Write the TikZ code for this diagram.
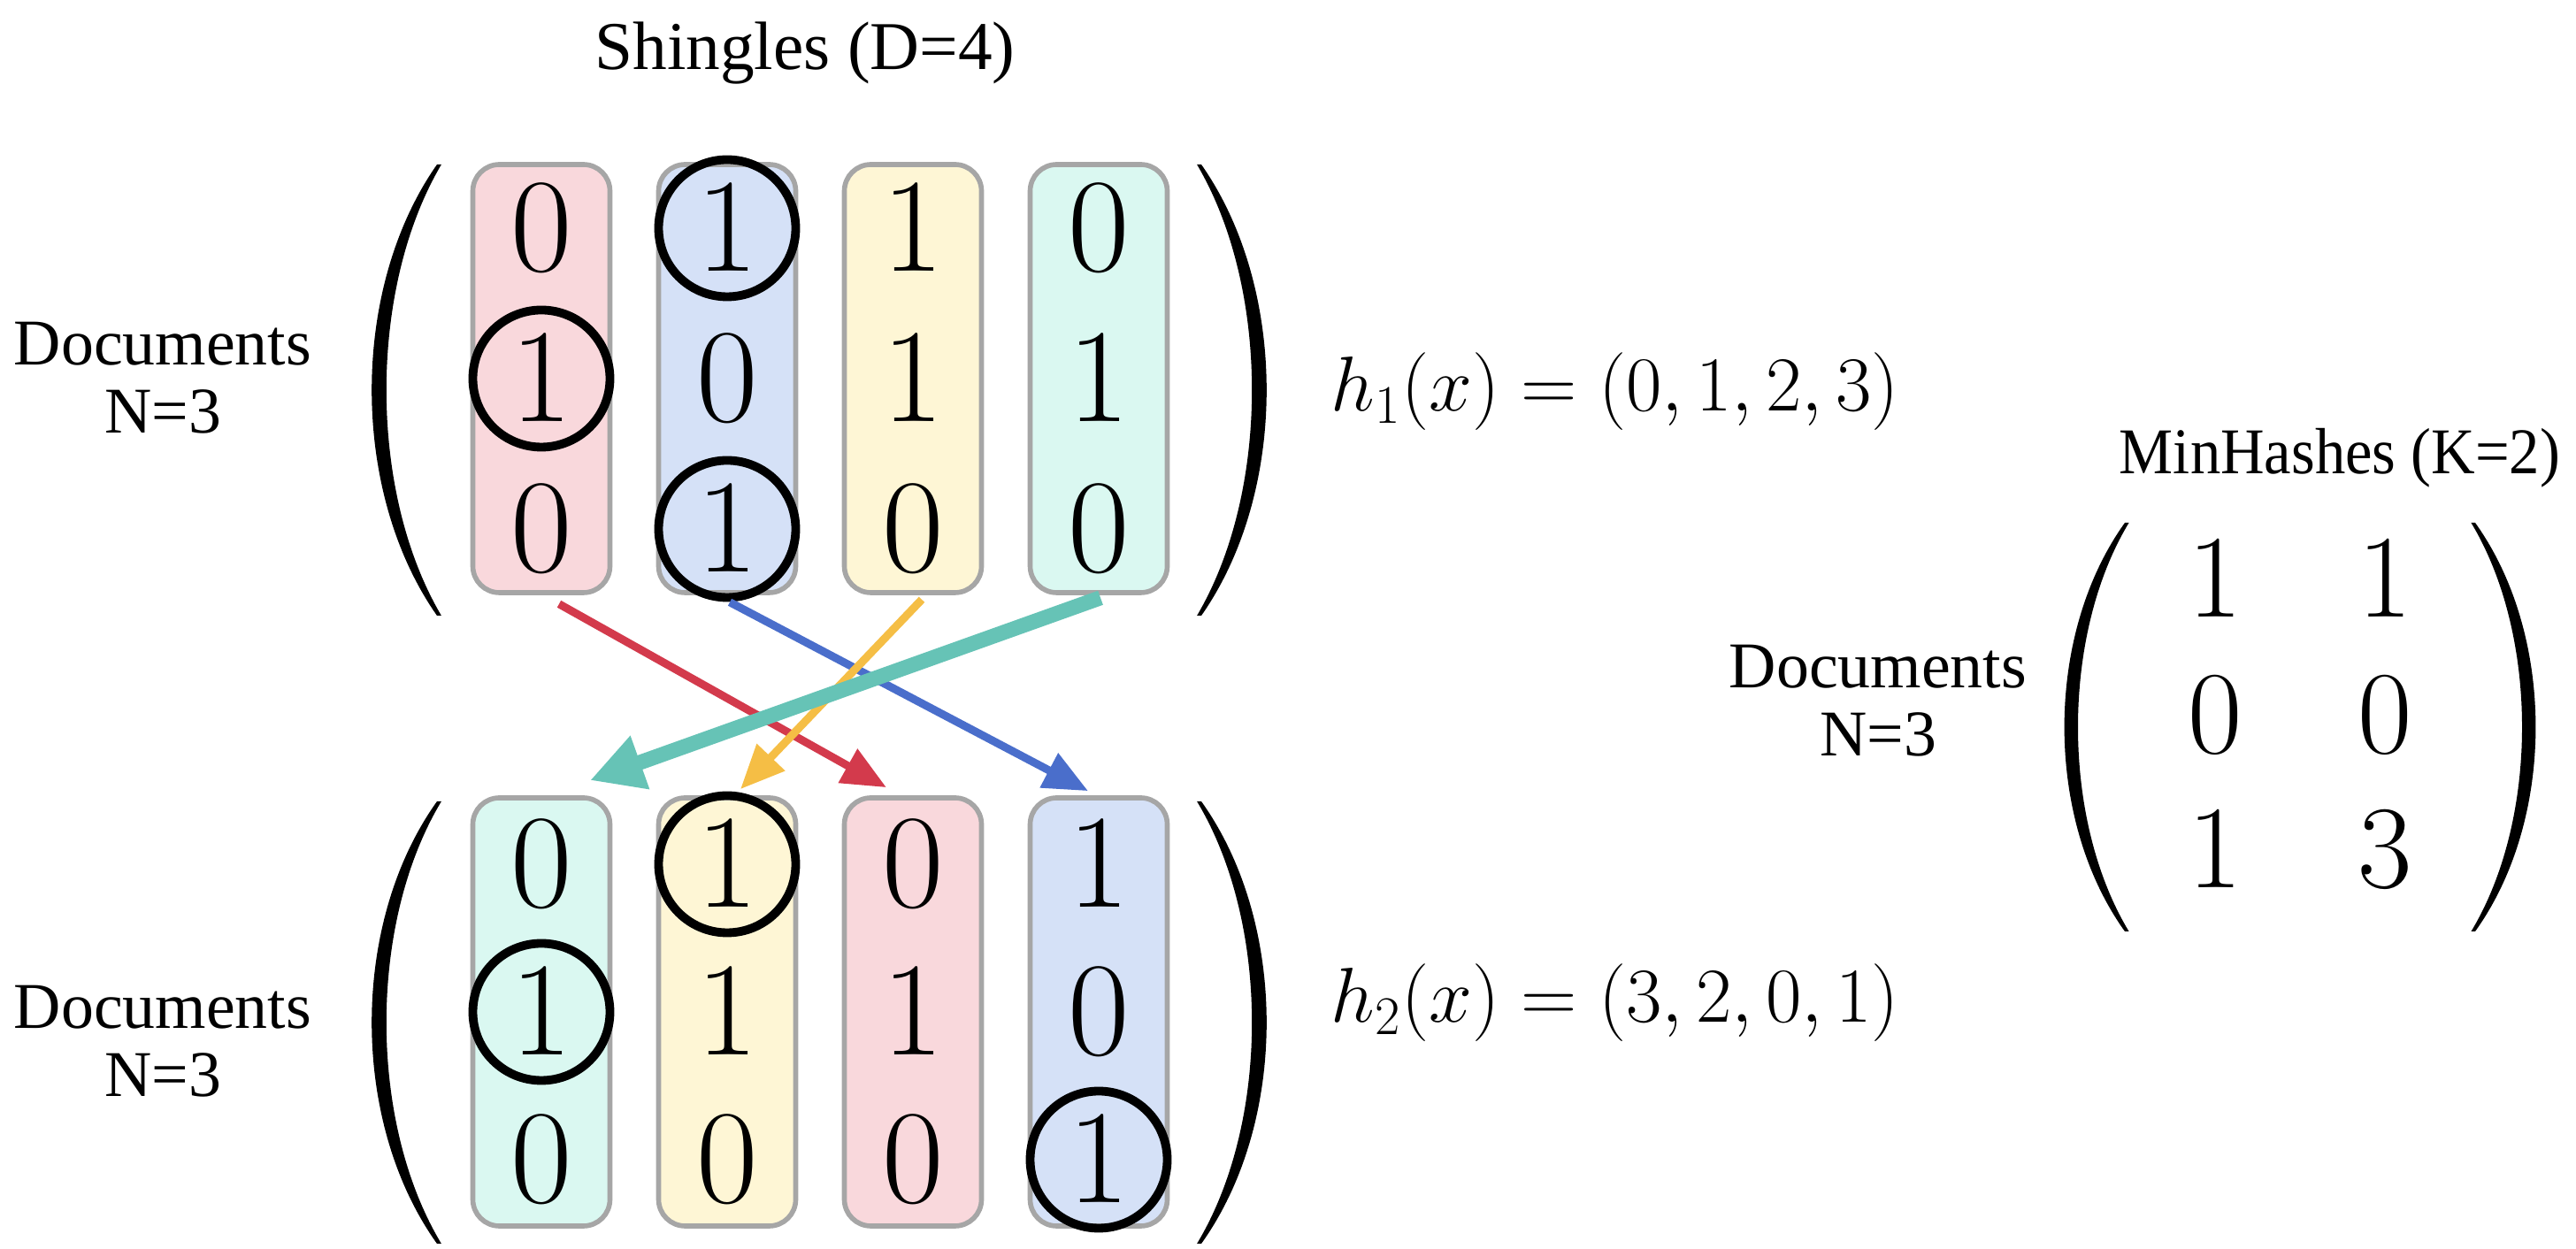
\RequirePackage{fix-cm}
\documentclass[tikz,border=0pt]{standalone}
\usepackage[no-math]{fontspec}
\setmainfont{Liberation Serif}
\usepackage{xcolor}
\usetikzlibrary{arrows.meta}

\definecolor{pinkcol}{HTML}{F9D8DC}
\definecolor{bluecol}{HTML}{D5E1F7}
\definecolor{yellowcol}{HTML}{FEF6D5}
\definecolor{tealcol}{HTML}{DAF8F1}
\definecolor{boxgray}{HTML}{A6A6A6}
\definecolor{redarr}{HTML}{D33A4C}
\definecolor{bluearr}{HTML}{4A6ECB}
\definecolor{yellowarr}{HTML}{F5BE45}
\definecolor{tealarr}{HTML}{66C3B6}

\tikzset{bigparen/.pic={
  \fill (0,1) .. controls (-1.2,0.45) and (-1.2,-0.45) .. (0,-1) -- (0.06,-1)
        .. controls (-0.95,-0.45) and (-0.95,0.45) .. (0.06,1) -- cycle;}}

\begin{document}
\begin{tikzpicture}
   \tikzstyle{colbox}=[draw=boxgray, line width=1.6pt, rounded corners=0.3cm, minimum width=1.55cm, minimum height=4.84cm, inner sep=0]
   \tikzstyle{bit}=[font=\fontsize{43}{50}\selectfont, inner sep=0]
   \tikzstyle{minbit}=[font=\fontsize{38}{44}\selectfont, inner sep=0]
   \tikzstyle{ring}=[circle, draw, line width=2.8pt, minimum size=1.55cm, inner sep=0]
   \tikzstyle{lbl}=[font=\fontsize{21}{22}\selectfont, align=center, inner sep=0]
   \tikzstyle{hash}=[font=\fontsize{25}{30}\selectfont, anchor=west, inner sep=0]
   \tikzstyle{pencil}=[line width=0.09cm, -{Triangle[length=0.5cm,width=0.42cm]}]
   \useasboundingbox (0,0) rectangle (29.12,14.12);
   %% labels
\node (shingles) at (9.10,13.33) [lbl, font=\fontsize{22}{24}\selectfont, anchor=base] {Shingles (D=4)};
\node (docs1) at (1.84,9.85) [lbl] {Documents\\N=3};
\node (docs2) at (1.84,2.35) [lbl] {Documents\\N=3};
\node (h1) at (15.04,9.69) [hash] {$h_1(x) = (0,1,2,3)$};
\node (h2) at (15.04,2.78) [hash] {$h_2(x) = (3,2,0,1)$};
\node (minhash) at (26.45,8.76) [lbl, anchor=base, xscale=0.93, transform shape] {MinHashes (K=2)};
\node (docs3) at (21.23,6.20) [lbl] {Documents\\N=3};
   %% shingle matrix
\foreach \c/\col/\ra/\rb/\rc in {1/pinkcol/0/1/0, 2/bluecol/1/0/1, 3/yellowcol/1/1/0, 4/tealcol/0/1/0}{
 \node (t\c) at ({6.12+2.1*(\c-1)},9.84) [colbox, fill=\col] {};
 \node (t\c-1) at ([yshift=1.7cm]t\c.center) [bit] {$\ra$};
 \node (t\c-2) at (t\c.center) [bit] {$\rb$};
 \node (t\c-3) at ([yshift=-1.7cm]t\c.center) [bit] {$\rc$};
}
\pic[xscale=0.82, yscale=2.55] at (4.94,9.71) {bigparen};
\pic[xscale=-0.82, yscale=2.55] at (13.58,9.71) {bigparen};
   %% permuted matrix
\foreach \c/\col/\ra/\rb/\rc in {1/tealcol/0/1/0, 2/yellowcol/1/1/0, 3/pinkcol/0/1/0, 4/bluecol/1/0/1}{
 \node (b\c) at ({6.12+2.1*(\c-1)},2.68) [colbox, fill=\col] {};
 \node (b\c-1) at ([yshift=1.67cm]b\c.center) [bit] {$\ra$};
 \node (b\c-2) at (b\c.center) [bit] {$\rb$};
 \node (b\c-3) at ([yshift=-1.67cm]b\c.center) [bit] {$\rc$};
}
\pic[xscale=0.82, yscale=2.50] at (4.94,2.56) {bigparen};
\pic[xscale=-0.82, yscale=2.50] at (13.58,2.56) {bigparen};
   %% minima
\node (c1) at (t1-2) [ring] {};
\node (c2) at (t2-1) [ring] {};
\node (c3) at (t2-3) [ring] {};
\node (c4) at (b1-2) [ring] {};
\node (c5) at (b2-1) [ring] {};
\node (c6) at (b4-3) [ring] {};
   %% permutation arrows
 \draw[pencil, redarr] ([shift={(0.20,-0.10)}]t1.south) -- ([shift={(-0.30,0.09)}]b3.north);
 \draw[pencil, bluearr] ([shift={(0.03,-0.08)}]t2.south) -- ([shift={(-0.12,0.05)}]b4.north);
 \draw[pencil, yellowarr] ([shift={(0.10,-0.05)}]t3.south) -- ([shift={(0.15,0.07)}]b2.north);
 \draw[tealarr, line width=0.17cm, -{Triangle[length=0.6cm,width=0.6cm]}] ([shift={(0.02,-0.03)}]t4.south) -- ([shift={(0.55,0.17)}]b1.north);
   %% minhash matrix
\node (m1-1) at (25.04,7.58) [minbit] {$1$};
\node (m1-2) at (26.96,7.58) [minbit] {$1$};
\node (m2-1) at (25.04,6.04) [minbit] {$0$};
\node (m2-2) at (26.96,6.04) [minbit] {$0$};
\node (m3-1) at (25.04,4.52) [minbit] {$1$};
\node (m3-2) at (26.96,4.52) [minbit] {$3$};
\pic[xscale=0.76, yscale=2.31] at (24.02,5.90) {bigparen};
\pic[xscale=-0.76, yscale=2.31] at (27.98,5.90) {bigparen};
    \end{tikzpicture}
\end{document}
